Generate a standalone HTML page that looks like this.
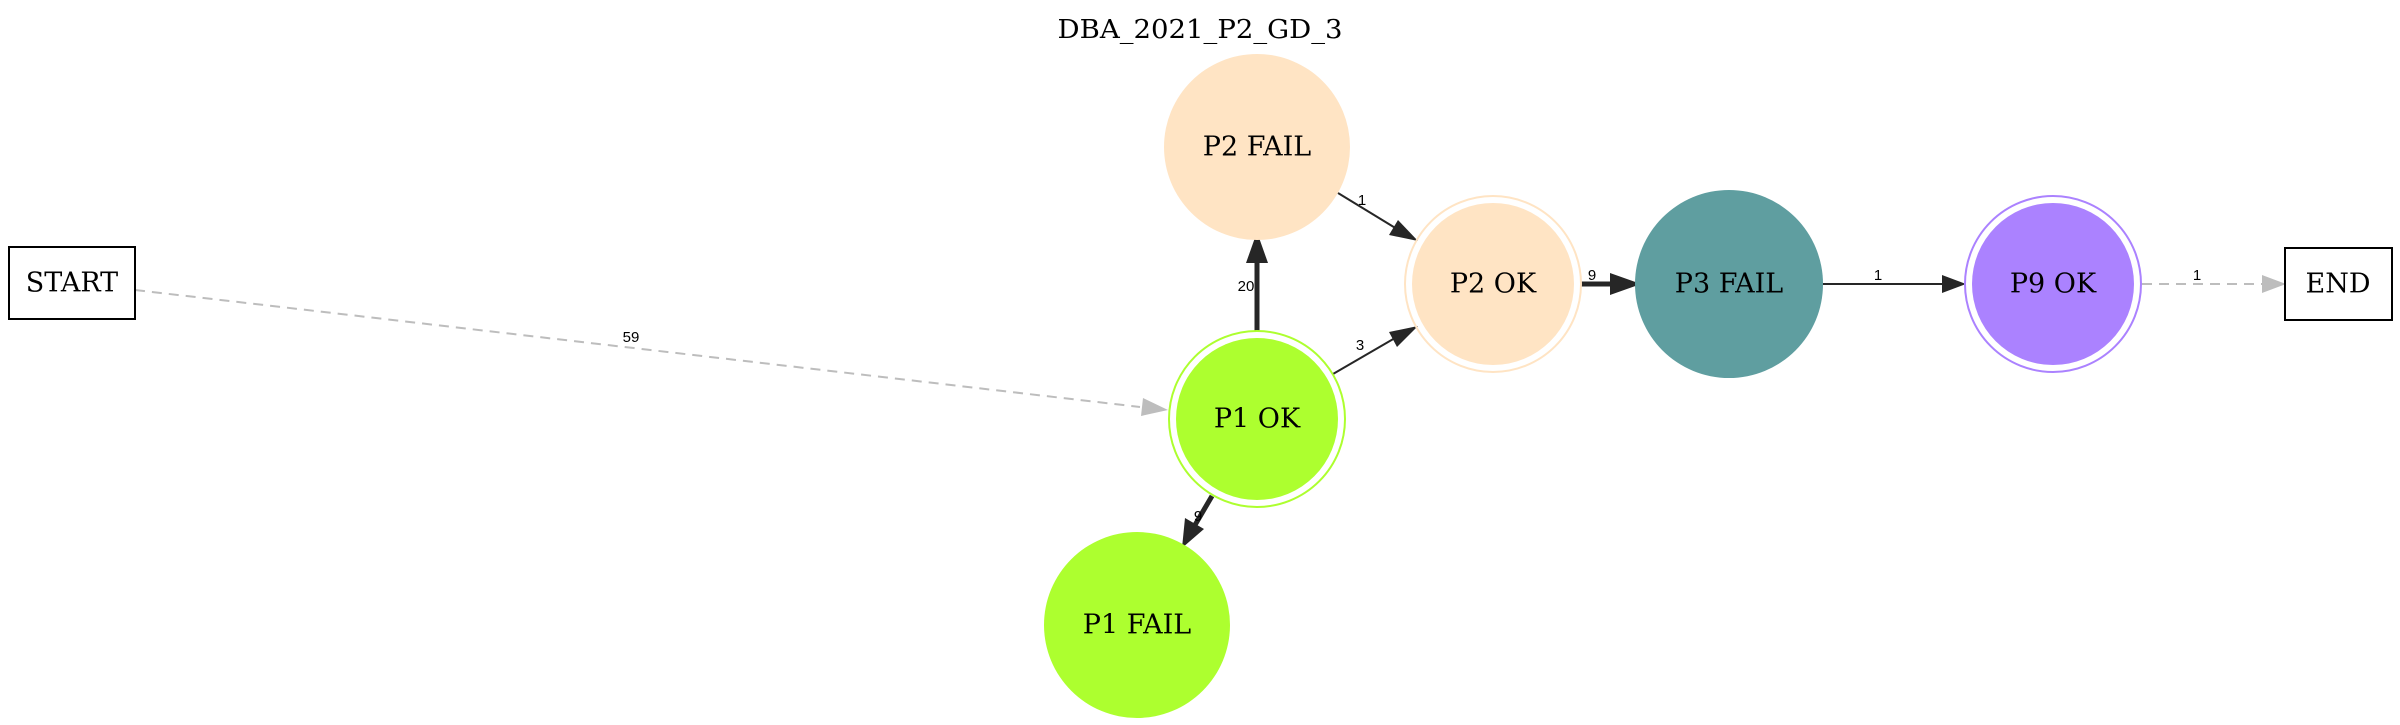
<!DOCTYPE html>
<html><head><meta charset="utf-8"><style>
html,body{margin:0;padding:0;background:#fff;}
svg{display:block;}
.n{font-family:"DejaVu Serif","Liberation Serif",serif;font-size:27px;fill:#000;text-anchor:middle;dominant-baseline:central;}
.e{font-family:"Liberation Sans","DejaVu Sans",sans-serif;font-size:15px;fill:#000;text-anchor:middle;}
</style></head><body>
<svg width="2400" height="725" viewBox="0 0 2400 725" xmlns="http://www.w3.org/2000/svg">
<text x="1200" y="38" font-family="DejaVu Serif, Liberation Serif, serif" font-size="26" text-anchor="middle" textLength="285" lengthAdjust="spacingAndGlyphs">DBA_2021_P2_GD_3</text>

<line x1="135" y1="290" x2="1140" y2="407" stroke="#bdbdbd" stroke-width="2" stroke-dasharray="10,7"/>
<polygon points="1168,410 1141,416 1143,398" fill="#bdbdbd"/>
<text class="e" x="631" y="342">59</text>

<line x1="1257" y1="331" x2="1257" y2="262" stroke="#262626" stroke-width="5"/>
<polygon points="1257,232 1246,263 1268,263" fill="#262626"/>
<text class="e" x="1246" y="291">20</text>

<line x1="1212" y1="496" x2="1195" y2="525" stroke="#262626" stroke-width="5"/>
<polygon points="1182,548 1185,518 1204,529" fill="#262626"/>
<text class="e" x="1198" y="521">9</text>

<line x1="1333" y1="374" x2="1395" y2="338" stroke="#262626" stroke-width="2"/>
<polygon points="1418,326 1397,347 1389,332" fill="#262626"/>
<text class="e" x="1360" y="350">3</text>

<line x1="1338" y1="193" x2="1397" y2="229" stroke="#262626" stroke-width="2"/>
<polygon points="1418,241 1389,235 1398,220" fill="#262626"/>
<text class="e" x="1362" y="205">1</text>

<line x1="1581" y1="284" x2="1612" y2="284" stroke="#262626" stroke-width="5"/>
<polygon points="1641,284 1610,273 1610,295" fill="#262626"/>
<text class="e" x="1592" y="280">9</text>

<line x1="1823" y1="284" x2="1942" y2="284" stroke="#262626" stroke-width="2"/>
<polygon points="1966,284 1942,275 1942,293" fill="#262626"/>
<text class="e" x="1878" y="280">1</text>

<line x1="2142" y1="284" x2="2262" y2="284" stroke="#bdbdbd" stroke-width="2" stroke-dasharray="10,7"/>
<polygon points="2286,284 2262,275 2262,293" fill="#bdbdbd"/>
<text class="e" x="2197" y="280">1</text>

<rect x="9" y="247" width="126" height="72" fill="#fff" stroke="#000" stroke-width="2"/>
<text class="n" x="72" y="283">START</text>

<circle cx="1257" cy="147" r="93" fill="#FFE4C4"/>
<text class="n" x="1257" y="147">P2 FAIL</text>

<circle cx="1257" cy="419" r="88" fill="none" stroke="#ADFF2F" stroke-width="2"/>
<circle cx="1257" cy="419" r="81" fill="#ADFF2F"/>
<text class="n" x="1257" y="419">P1 OK</text>

<circle cx="1137" cy="625" r="93" fill="#ADFF2F"/>
<text class="n" x="1137" y="625">P1 FAIL</text>

<circle cx="1493" cy="284" r="88" fill="none" stroke="#FFE4C4" stroke-width="2"/>
<circle cx="1493" cy="284" r="81" fill="#FFE4C4"/>
<text class="n" x="1493" y="284">P2 OK</text>

<circle cx="1729" cy="284" r="94" fill="#5F9EA0"/>
<text class="n" x="1729" y="284">P3 FAIL</text>

<circle cx="2053" cy="284" r="88" fill="none" stroke="#AB82FF" stroke-width="2"/>
<circle cx="2053" cy="284" r="81" fill="#AB82FF"/>
<text class="n" x="2053" y="284">P9 OK</text>

<rect x="2285" y="248" width="107" height="72" fill="#fff" stroke="#000" stroke-width="2"/>
<text class="n" x="2338" y="284">END</text>
</svg>
</body></html>
